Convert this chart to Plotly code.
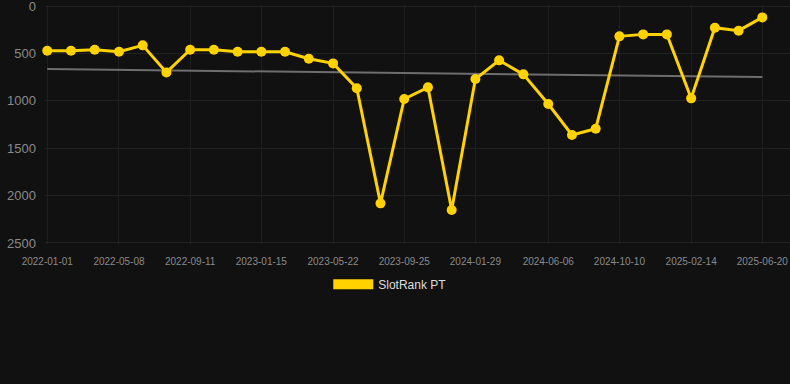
import plotly.graph_objects as go

dates = [
    "2022-01-01", "2022-02-12", "2022-03-26", "2022-05-08", "2022-06-19", "2022-07-31",
    "2022-09-11", "2022-10-23", "2022-12-04", "2023-01-15", "2023-02-26", "2023-04-09",
    "2023-05-22", "2023-07-03", "2023-08-14", "2023-09-25", "2023-11-06", "2023-12-18",
    "2024-01-29", "2024-03-11", "2024-04-23", "2024-06-06", "2024-07-18", "2024-08-29",
    "2024-10-10", "2024-11-21", "2025-01-02", "2025-02-14", "2025-03-28", "2025-05-09",
    "2025-06-20",
]
rank = [
    471, 471, 461, 482, 415, 700, 461, 461, 482, 482, 482, 556, 605, 868, 2082, 981,
    858, 2152, 770, 573, 721, 1034, 1361, 1294, 320, 299, 299, 974, 229, 260, 120,
]
trend_dates = ["2022-01-01", "2025-06-20"]
trend_values = [665, 749]
tick_dates = [
    "2022-01-01", "2022-05-08", "2022-09-11", "2023-01-15", "2023-05-22", "2023-09-25",
    "2024-01-29", "2024-06-06", "2024-10-10", "2025-02-14", "2025-06-20",
]
y_ticks = [0, 500, 1000, 1500, 2000, 2500]
series_name = "SlotRank PT"

GOLD = "#FFD200"
fig = go.Figure()
fig.add_trace(go.Scatter(
    x=trend_dates, y=trend_values, mode="lines",
    line=dict(color="#6e6e6e", width=2), showlegend=False, hoverinfo="skip",
))
fig.add_trace(go.Scatter(
    x=dates, y=rank, mode="lines+markers",
    line=dict(color=GOLD, width=3), marker=dict(color=GOLD, size=10),
    showlegend=False, name=series_name, cliponaxis=False,
))
fig.add_trace(go.Scatter(
    x=[None], y=[None], mode="lines", name=series_name,
    line=dict(color=GOLD, width=10), showlegend=True,
))

fig.update_layout(
    width=790, height=384,
    paper_bgcolor="#111111", plot_bgcolor="#111111",
    margin=dict(l=45, r=0, t=5, b=140),
    font=dict(family="Liberation Sans, Arial, sans-serif", color="#8a8a8a"),
    xaxis=dict(
        type="date",
        range=["2021-12-28", "2025-08-08"],
        tickvals=tick_dates, ticktext=tick_dates,
        tickfont=dict(size=10, color="#8a8a8a"),
        ticklabelstandoff=10,
        showgrid=True, gridcolor="#1f1f1f", gridwidth=1,
        zeroline=False, showline=False, ticks="",
    ),
    yaxis=dict(
        range=[2511, -11],
        tickvals=y_ticks,
        tickfont=dict(size=13, color="#8a8a8a"),
        ticklabelstandoff=8,
        ticklabeloverflow="allow",
        showgrid=True, gridcolor="#222222", gridwidth=1,
        zeroline=False, showline=False, ticks="",
    ),
    legend=dict(
        orientation="h", xref="container", yref="container",
        x=0.494, xanchor="center", y=0.26, yanchor="middle",
        font=dict(size=12, color="#dddddd"), itemwidth=40,
        bgcolor="rgba(0,0,0,0)",
    ),
)

fig.write_html(
    "out.html",
    config={"displayModeBar": False},
    post_script="document.body.style.margin='0';document.body.style.background='#111111';",
)
